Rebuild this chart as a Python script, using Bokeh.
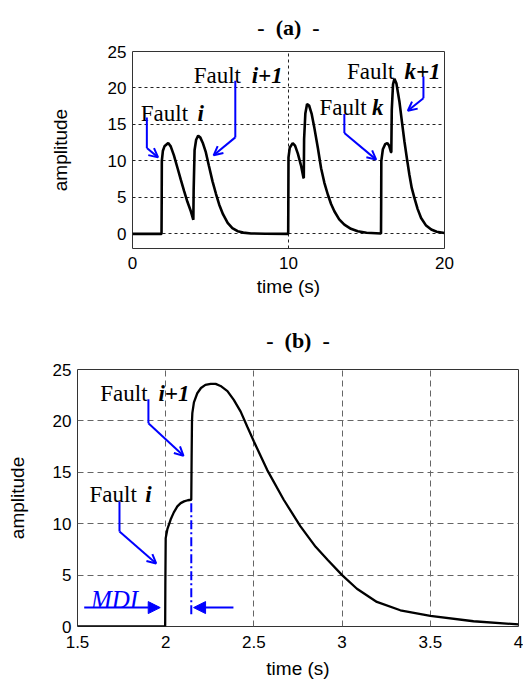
from bokeh.plotting import figure
from bokeh.models import Label, Arrow, OpenHead, NormalHead, Range1d, FixedTicker, NumeralTickFormatter
from bokeh.embed import file_html
from bokeh.resources import INLINE

# ---------------- data ----------------
time_a = [0, 1.86, 1.87, 1.88, 1.95, 2.05, 2.29, 2.45, 2.65, 2.89, 3.1, 3.31, 3.52, 3.74, 3.89,
          3.9, 3.92, 3.98, 4.08, 4.21, 4.35, 4.5, 4.7, 4.9, 5.13, 5.35, 5.56, 5.8, 6.1, 6.4,
          6.74, 7.1, 7.6, 8.5, 9.98,
          9.99, 10.0, 10.08, 10.27, 10.42, 10.6, 10.8, 10.96, 10.98, 11.0, 11.08, 11.19, 11.32,
          11.48, 11.66, 11.88, 12.09, 12.3, 12.52, 12.73, 12.94, 13.25, 13.58, 14.0, 14.44, 15.0,
          15.93, 15.94, 15.95, 16.05, 16.2, 16.33, 16.45, 16.57, 16.59, 16.62, 16.7, 16.79, 16.92,
          17.11, 17.27, 17.43, 17.6, 17.75, 17.9, 18.07, 18.28, 18.5, 18.8, 19.15, 19.5, 20.0]
amp_a = [0, 0, 4.0, 10.0, 11.4, 12.0, 12.45, 12.0, 10.8, 9.0, 7.4, 5.85, 4.4, 3.1, 2.0,
         1.95, 6.0, 11.5, 12.9, 13.46, 13.2, 12.5, 11.2, 9.3, 7.2, 5.5, 4.0, 2.7, 1.5, 0.8,
         0.37, 0.18, 0.06, 0.02, 0,
         5.0, 10.5, 11.8, 12.45, 12.1, 11.0, 9.4, 7.7, 7.66, 13.0, 16.5, 17.8, 17.6,
         16.5, 14.5, 11.8, 9.0, 7.0, 5.4, 4.1, 3.1, 2.0, 1.28, 0.7, 0.37, 0.15,
         0.05, 4.0, 10.0, 11.6, 12.3, 12.45, 12.1, 11.2, 11.2, 17.0, 20.5, 21.25, 20.6,
         18.15, 15.4, 12.7, 10.2, 8.1, 6.3, 4.93, 3.4, 2.19, 1.2, 0.6, 0.3, 0.12]

time_b = [1.5, 1.997, 1.998, 2.0, 2.01, 2.028, 2.046, 2.066, 2.085, 2.104, 2.125, 2.145,
          2.147, 2.149, 2.151, 2.16, 2.179, 2.2, 2.225, 2.255, 2.283, 2.311, 2.35, 2.386,
          2.425, 2.462, 2.5, 2.575, 2.669, 2.764, 2.85, 2.92, 3.0, 3.084, 3.197, 3.33, 3.5,
          3.745, 4.0]
amp_b = [0, 0, 4.0, 8.6, 9.5, 10.4, 11.1, 11.68, 12.0, 12.17, 12.28, 12.33,
         16.5, 20.0, 20.75, 21.8, 22.69, 23.2, 23.5, 23.6, 23.6, 23.4, 22.9, 22.04,
         20.9, 19.45, 18.0, 15.24, 12.33, 9.74, 7.75, 6.45, 5.0, 3.67, 2.39, 1.58, 1.03,
         0.51, 0.2]

xticks_a = [0, 10, 20]
xgrid_a = [10]
yticks = [0, 5, 10, 15, 20, 25]
ygrid_a = [0, 5, 10, 15, 20]
xticks_b = [1.5, 2, 2.5, 3, 3.5, 4]
xgrid_b = [2, 2.5, 3, 3.5]
ygrid_b = [5, 10, 15, 20]
fault_i1_b = 2.145

BLUE = "#0000FF"
SANS = "Liberation Sans"
SERIF = "Liberation Serif"
NB = "\u00a0"


def style(p, xt, yt, xg, yg, grid_color, grid_dash, title):
    p.outline_line_color = "#333333"
    p.outline_line_width = 1
    p.background_fill_color = "white"
    p.border_fill_color = "white"
    p.title.text = title
    p.title.align = "center"
    p.title.text_font = SERIF
    p.title.text_font_style = "bold"
    p.title.text_font_size = "22px"
    p.title.text_color = "black"
    for ax in (p.xaxis[0], p.yaxis[0]):
        ax.axis_line_color = None
        ax.major_tick_line_color = None
        ax.minor_tick_line_color = None
        ax.major_tick_out = 0
        ax.major_tick_in = 0
        ax.minor_tick_out = 0
        ax.minor_tick_in = 0
        ax.major_label_text_font = SANS
        ax.major_label_text_font_size = "17px"
        ax.major_label_text_color = "black"
        ax.axis_label_text_font = SANS
        ax.axis_label_text_font_size = "19px"
        ax.axis_label_text_font_style = "normal"
        ax.axis_label_text_color = "black"
    p.xaxis[0].axis_label = "time (s)"
    p.yaxis[0].axis_label = "amplitude"
    p.xaxis[0].ticker = FixedTicker(ticks=xt)
    p.yaxis[0].ticker = FixedTicker(ticks=yt)
    p.xgrid[0].ticker = FixedTicker(ticks=xg)
    p.ygrid[0].ticker = FixedTicker(ticks=yg)
    for g in (p.xgrid[0], p.ygrid[0]):
        g.grid_line_color = grid_color
        g.grid_line_dash = grid_dash
        g.grid_line_width = 1


def lab(p, x, y, text, size, font=SERIF, fstyle="normal", color="black",
        align="left", baseline="alphabetic"):
    p.add_layout(Label(x=x, y=y, text=text, text_font=font, text_font_size=size,
                       text_font_style=fstyle, text_color=color, text_align=align,
                       text_baseline=baseline))


def bend_arrow(p, x0, y0, y1, x2, y2):
    p.add_layout(Arrow(end=None, x_start=x0, y_start=y0, x_end=x0, y_end=y1,
                       line_color=BLUE, line_width=2))
    p.add_layout(Arrow(end=OpenHead(size=9, line_color=BLUE, line_width=2),
                       x_start=x0, y_start=y1, x_end=x2, y_end=y2,
                       line_color=BLUE, line_width=2))


# ---------------- (a) ----------------
pa = figure(width=523, height=300, x_range=Range1d(0, 20), y_range=Range1d(-2, 25),
            output_backend="svg", toolbar_location=None,
            min_border_left=132, min_border_right=79, min_border_top=50, min_border_bottom=52)
style(pa, xticks_a, yticks, xgrid_a, ygrid_a, "#222222", "3 3", "-" + NB * 2 + "(a)" + NB * 2 + "-")
pa.title.standoff = 24
pa.xaxis[0].major_label_standoff = 8
pa.yaxis[0].major_label_standoff = 6
pa.xaxis[0].axis_label_standoff = 4
pa.yaxis[0].axis_label_standoff = 34
pa.line(time_a, amp_a, line_color="black", line_width=2.6)

lab(pa, 0.53, 16.55, "Fault", "23px")
lab(pa, 4.17, 16.55, "i", "23px", fstyle="bold italic")
lab(pa, 3.92, 21.7, "Fault", "23px")
lab(pa, 7.64, 21.7, "i+1", "23px", fstyle="bold italic")
lab(pa, 11.98, 17.33, "Fault", "23px")
lab(pa, 15.36, 17.33, "k", "23px", fstyle="bold italic")
lab(pa, 13.75, 22.26, "Fault", "23px")
lab(pa, 17.43, 22.26, "k+1", "23px", fstyle="bold italic")

bend_arrow(pa, 0.92, 15.96, 11.76, 1.64, 10.49)
bend_arrow(pa, 6.59, 20.98, 13.23, 5.20, 10.77)
bend_arrow(pa, 13.58, 16.42, 13.82, 15.62, 10.18)
bend_arrow(pa, 18.65, 21.57, 18.6, 17.65, 16.88)

# ---------------- (b) ----------------
pb = figure(width=523, height=381, x_range=Range1d(1.5, 4), y_range=Range1d(0, 25),
            output_backend="svg", toolbar_location=None,
            min_border_left=77, min_border_right=5, min_border_top=69, min_border_bottom=54)
style(pb, xticks_b, yticks, xgrid_b, ygrid_b, "#666666", "6 4", "-" + NB * 2 + "(b)" + NB * 2 + "-")
pb.title.standoff = 34
pb.title.offset = -8
pb.xaxis[0].formatter = NumeralTickFormatter(format="0.[0]")
pb.xaxis[0].major_label_standoff = 9
pb.yaxis[0].major_label_standoff = 6
pb.xaxis[0].axis_label_standoff = 7
pb.yaxis[0].axis_label_standoff = 22
pb.line(time_b, amp_b, line_color="black", line_width=2.3)

# MDI marker
pb.add_layout(Arrow(end=None, x_start=fault_i1_b, y_start=12.0, x_end=fault_i1_b, y_end=0.9,
                    line_color=BLUE, line_width=2, line_dash="9 3 2 3"))
pb.add_layout(Arrow(end=NormalHead(size=12, fill_color=BLUE, line_color=BLUE),
                    x_start=1.538, y_start=1.84, x_end=1.969, y_end=1.84,
                    line_color=BLUE, line_width=2))
pb.add_layout(Arrow(end=NormalHead(size=12, fill_color=BLUE, line_color=BLUE),
                    x_start=2.384, y_start=1.84, x_end=2.158, y_end=1.84,
                    line_color=BLUE, line_width=2))
lab(pb, 1.576, 2.64, "MDI", "25px", fstyle="italic", color=BLUE)

lab(pb, 1.568, 12.81, "Fault", "23px")
lab(pb, 1.884, 12.81, "i", "23px", fstyle="bold italic")
lab(pb, 1.629, 22.65, "Fault", "23px")
lab(pb, 1.959, 22.65, "i+1", "23px", fstyle="bold italic")
bend_arrow(pb, 1.738, 12.16, 9.25, 1.946, 6.13)
bend_arrow(pb, 1.902, 22.1, 19.78, 2.101, 16.6)

open("out.html", "w").write(file_html([pa, pb], INLINE))
